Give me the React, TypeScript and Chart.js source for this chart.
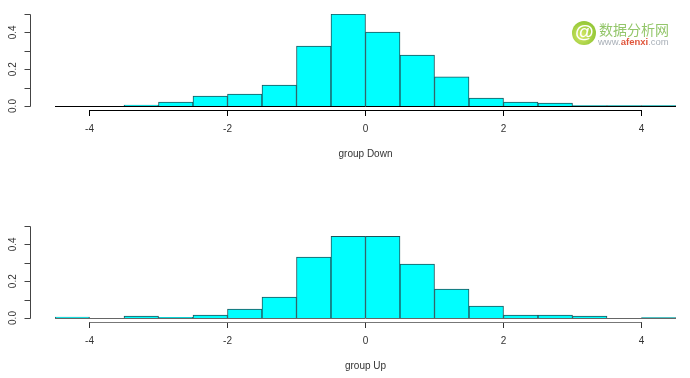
import React, { useEffect, useRef } from "react";
import { Chart, registerables } from "chart.js";

Chart.register(...registerables);

const binCentres = [-4.25, -3.75, -3.25, -2.75, -2.25, -1.75, -1.25, -0.75, -0.25, 0.25, 0.75, 1.25, 1.75, 2.25, 2.75, 3.25, 3.75, 4.25];
const downValues = [0, 0, 0.005, 0.022, 0.054, 0.065, 0.114, 0.326, 0.5, 0.402, 0.277, 0.158, 0.043, 0.022, 0.016, 0.002, 0.002, 0.002];
const upValues = [0.005, 0, 0.011, 0.004, 0.016, 0.049, 0.114, 0.331, 0.444, 0.444, 0.293, 0.157, 0.065, 0.016, 0.016, 0.011, 0, 0.002];
const xTicks = [-4, -2, 0, 2, 4];
const yMinorTicks = [0, 0.1, 0.2, 0.3, 0.4, 0.5];
const yLabels = ["0.0", "0.2", "0.4"];
const downTitle = "group Down";
const upTitle = "group Up";

const FONT = "'Liberation Sans', Arial, sans-serif";

function makeAxesPlugin(axisColor: string, baseColor: string) {
  return {
    id: "rAxes",
    afterDatasetsDraw(chart: any) {
      const { ctx, scales } = chart;
      const x = scales.x;
      const y = scales.y;
      ctx.save();
      // baseline of the histogram
      ctx.strokeStyle = baseColor;
      ctx.lineWidth = 1;
      const by = Math.round(y.getPixelForValue(0)) + 0.5;
      ctx.beginPath();
      ctx.moveTo(x.left, by);
      ctx.lineTo(x.right, by);
      ctx.stroke();
      // x axis line
      ctx.strokeStyle = axisColor;
      const ay = Math.round(y.bottom) + 0.5;
      ctx.beginPath();
      ctx.moveTo(x.getPixelForValue(xTicks[0]), ay);
      ctx.lineTo(x.getPixelForValue(xTicks[xTicks.length - 1]), ay);
      ctx.stroke();
      // y axis
      const ax = 30.5;
      ctx.strokeStyle = "#444444";
      ctx.beginPath();
      ctx.moveTo(ax, Math.round(y.getPixelForValue(0)) + 0.5);
      ctx.lineTo(ax, Math.round(y.getPixelForValue(0.5)) + 0.5);
      yMinorTicks.forEach((v) => {
        const p = Math.round(y.getPixelForValue(v)) + 0.5;
        ctx.moveTo(ax, p);
        ctx.lineTo(ax - 6, p);
      });
      ctx.stroke();
      // rotated y labels
      ctx.fillStyle = "#333333";
      ctx.font = `10px ${FONT}`;
      ctx.textAlign = "center";
      ctx.textBaseline = "middle";
      yLabels.forEach((label) => {
        ctx.save();
        ctx.translate(13, y.getPixelForValue(Number(label)));
        ctx.rotate(-Math.PI / 2);
        ctx.fillText(label, 0, 0);
        ctx.restore();
      });
      ctx.restore();
    },
  };
}

function makeConfig(values: number[], title: string, axisColor: string, baseColor: string, tickColor: string): any {
  return {
    type: "bar",
    data: {
      datasets: [
        {
          data: binCentres.map((c, i) => ({ x: c, y: values[i] })),
          backgroundColor: "#00ffff",
          borderColor: "#1d555b",
          borderWidth: 1,
          barPercentage: 1,
          categoryPercentage: 1,
        },
      ],
    },
    plugins: [makeAxesPlugin(axisColor, baseColor)],
    options: {
      animation: false,
      responsive: false,
      layout: { padding: { left: 55, right: 14, top: 14, bottom: 0 } },
      plugins: { legend: { display: false }, tooltip: { enabled: false } },
      scales: {
        x: {
          type: "linear",
          min: -4.5,
          max: 4.5,
          offset: false,
          afterBuildTicks: (s: any) => {
            s.ticks = xTicks.map((v) => ({ value: v }));
          },
          afterFit: (s: any) => {
            s.height = 56;
          },
          border: { display: false },
          grid: { offset: false, drawOnChartArea: false, drawTicks: true, tickLength: 6, color: tickColor },
          ticks: {
            color: "#333333",
            font: { family: FONT, size: 10 },
            padding: 7,
            maxRotation: 0,
            callback: (v: any) => String(v),
          },
          title: {
            display: true,
            text: title,
            color: "#333333",
            font: { family: FONT, size: 10 },
            padding: { top: 0, bottom: 6 },
          },
        },
        y: {
          display: false,
          min: -0.0217,
          max: 0.5,
        },
      },
    },
  };
}

function Hist({ values, title, top, axisColor, baseColor, tickColor }: any) {
  const ref = useRef<HTMLCanvasElement | null>(null);
  useEffect(() => {
    const chart = new Chart(ref.current as HTMLCanvasElement, makeConfig(values, title, axisColor, baseColor, tickColor));
    return () => chart.destroy();
  }, []);
  return <canvas ref={ref} width={690} height={166} style={{ position: "absolute", left: 0, top, display: "block" }} />;
}

export default function App() {
  return (
    <div style={{ position: "absolute", left: 0, top: 0, width: 690, height: 378, background: "#fff", overflow: "hidden" }}>
      <Hist values={downValues} title={downTitle} top={0} axisColor="#000000" baseColor="#000000" tickColor="#000000" />
      <Hist values={upValues} title={upTitle} top={212} axisColor="#777777" baseColor="#666666" tickColor="#333333" />
      <div
        style={{
          position: "absolute",
          left: 572,
          top: 21,
          width: 24,
          height: 24,
          borderRadius: "50%",
          background: "radial-gradient(circle at 40% 60%, #d7e86a 0%, #9ccc3c 60%, #86bd34 100%)",
          color: "#fff",
          fontFamily: FONT,
          fontWeight: 700,
          fontStyle: "italic",
          fontSize: 19,
          lineHeight: "22px",
          textAlign: "center",
        }}
      >
        @
      </div>
      <div
        style={{
          position: "absolute",
          left: 599,
          top: 20,
          width: 72,
          fontFamily: "'Noto Sans CJK SC', sans-serif",
          fontSize: 14,
          lineHeight: "18px",
          letterSpacing: 0,
          color: "#93c66a",
          whiteSpace: "nowrap",
        }}
      >
        数据分析网
      </div>
      <div
        style={{
          position: "absolute",
          left: 598,
          top: 36,
          fontFamily: FONT,
          fontSize: 9.5,
          lineHeight: "11px",
          color: "#a9b0b8",
          whiteSpace: "nowrap",
        }}
      >
        www.<span style={{ color: "#e0563c", fontWeight: 700 }}>afenxi</span>.com
      </div>
    </div>
  );
}
